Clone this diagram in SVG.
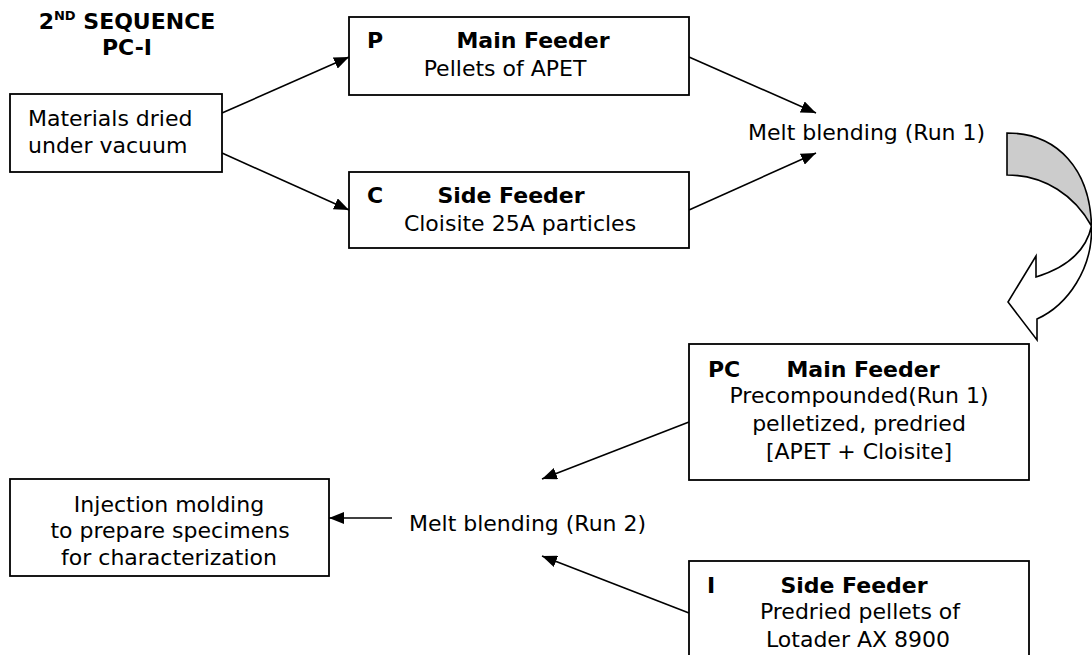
<svg xmlns="http://www.w3.org/2000/svg" width="1092" height="655" viewBox="0 0 1092 655">
<defs>
<style>
text{font-family:"DejaVu Sans","Verdana",sans-serif;font-size:22px;fill:#000}
.b{font-weight:bold}
.m{text-anchor:middle}
.box{fill:#fff;stroke:#000;stroke-width:1.8}
.ln{fill:none;stroke:#000;stroke-width:1.6;marker-end:url(#ah)}
</style>
<marker id="ah" viewBox="0 0 15 12" refX="15" refY="6" markerWidth="15" markerHeight="12" markerUnits="userSpaceOnUse" orient="auto">
<path d="M0,0 L15,6 L0,12 Z" fill="#000"/>
</marker>
</defs>
<rect width="1092" height="655" fill="#fff"/>
<g id="title">
<text class="b m" x="127" y="29">2<tspan font-size="13" dy="-9">ND</tspan><tspan dy="9"> SEQUENCE</tspan></text>
<text class="b m" x="127" y="55">PC-I</text>
</g>
<g id="connectors">
<line class="ln" x1="222" y1="113" x2="349" y2="57"/>
<line class="ln" x1="222" y1="153" x2="349" y2="210"/>
<line class="ln" x1="689" y1="57" x2="816" y2="113"/>
<line class="ln" x1="689" y1="210" x2="816" y2="153"/>
<line class="ln" x1="689" y1="422" x2="542" y2="479"/>
<line class="ln" x1="689" y1="613" x2="542" y2="556"/>
<line class="ln" x1="392" y1="518" x2="329" y2="518"/>
<g id="curved-arrow" stroke="#000" stroke-width="1.6" stroke-linejoin="miter">
<path d="M1007,133 C1058,133 1090,170 1091.5,226 C1075,196 1045,175 1007,175 Z" fill="#cccccc"/>
<path d="M1091.5,226 C1093,268 1068,305 1037,319 L1037,340 L1008,302 L1036,256 L1036,277 C1065,268 1086,252 1091.5,226 Z" fill="#fff"/>
</g>
</g>
<g id="materials">
<rect class="box" x="10" y="94" width="212" height="78"/>
<text x="28" y="126">Materials dried</text>
<text x="28" y="153">under vacuum</text>
</g>
<g id="main-feeder-p">
<rect class="box" x="349" y="17" width="340" height="78"/>
<text class="b" x="367" y="48">P</text>
<text class="b m" x="533" y="48">Main Feeder</text>
<text class="m" x="505" y="76">Pellets of APET</text>
</g>
<g id="side-feeder-c">
<rect class="box" x="349" y="172" width="340" height="76"/>
<text class="b" x="367" y="203">C</text>
<text class="b m" x="511" y="203">Side Feeder</text>
<text class="m" x="520" y="231">Cloisite 25A particles</text>
</g>
<g id="melt-run1">
<text x="748" y="140">Melt blending (Run 1)</text>
</g>
<g id="main-feeder-pc">
<rect class="box" x="689" y="344" width="340" height="136"/>
<text class="b" x="708" y="377">PC</text>
<text class="b m" x="863" y="377">Main Feeder</text>
<text class="m" x="859" y="403">Precompounded(Run 1)</text>
<text class="m" x="859" y="431">pelletized, predried</text>
<text class="m" x="859" y="459">[APET + Cloisite]</text>
</g>
<g id="side-feeder-i">
<rect class="box" x="689" y="561" width="340" height="110"/>
<text class="b" x="707" y="593">I</text>
<text class="b m" x="854" y="593">Side Feeder</text>
<text class="m" x="860" y="619">Predried pellets of</text>
<text class="m" x="858" y="647">Lotader AX 8900</text>
</g>
<g id="melt-run2">
<text x="409" y="531">Melt blending (Run 2)</text>
</g>
<g id="injection">
<rect class="box" x="10" y="479" width="319" height="97"/>
<text class="m" x="169" y="512">Injection molding</text>
<text class="m" x="170" y="538">to prepare specimens</text>
<text class="m" x="169" y="565">for characterization</text>
</g>
</svg>
